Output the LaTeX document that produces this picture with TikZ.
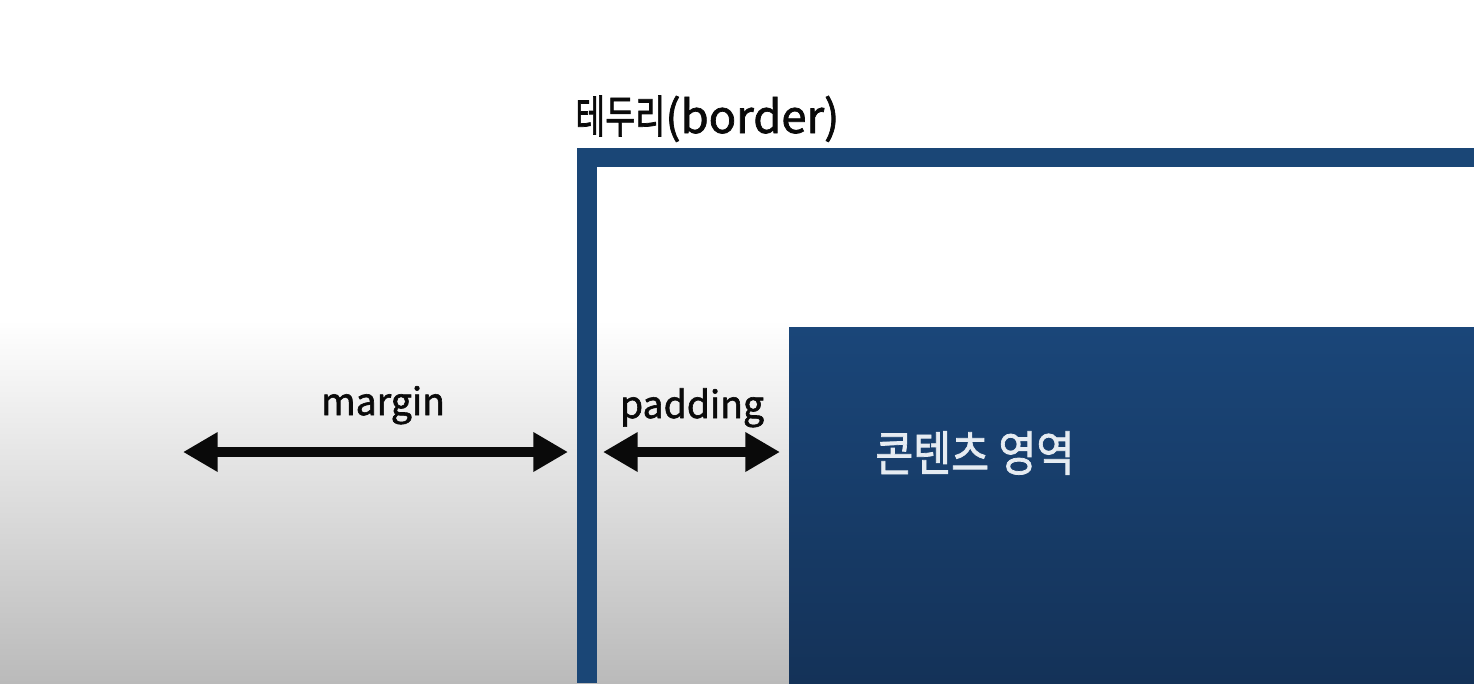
\documentclass[tikz,border=0pt]{standalone}
\usepackage{fontspec}
\usepackage{graphicx}
\newfontfamily\krfont[FakeBold=1.6]{Noto Sans CJK KR}
\usetikzlibrary{arrows.meta}
\definecolor{bgColor}{HTML}{ffffff}
\definecolor{bgGray}{HTML}{bababa}
\definecolor{fgColor}{HTML}{0a0a0a}
\definecolor{borderBlue}{HTML}{1a4676}
\definecolor{contentTop}{HTML}{1a4679}
\definecolor{contentBottom}{HTML}{143258}
\definecolor{labelWhite}{HTML}{e6ecf2}
\newcommand{\squeeze}[2]{\scalebox{#1}[1]{#2}}

\begin{document}
\begin{tikzpicture}[x=0.75pt,y=0.75pt,yscale=-1,
	label/.style={text=fgColor, inner sep=0pt, font=\krfont\fontsize{28}{28}\selectfont},
	dim/.style={fgColor, line width=7.5pt, {Triangle[length=26pt,width=28pt]}-{Triangle[length=26pt,width=28pt]}}]
		\useasboundingbox (0,0) rectangle (1474,683);

		% Background
		\fill [bgColor] (0,0) rectangle (1474,683);
		\shade [top color=bgColor, bottom color=bgGray] (0,320) rectangle (1474,683);

		% Border frame
		\fill [borderBlue] (577,148) rectangle (597,683);
		\fill [borderBlue] (577,148) rectangle (1474,167);

		% Content area
		\shade [top color=contentTop, bottom color=contentBottom] (789,327) rectangle (1474,683);

		% Arrow ends
		\coordinate (marginL)  at (183,452);
		\coordinate (marginR)  at (568,452);
		\coordinate (paddingL) at (603,452);
		\coordinate (paddingR) at (780,452);

		% Arrows
		\draw [dim] (marginL)  -- (marginR);
		\draw [dim] (paddingL) -- (paddingR);

		% Text Node
		\node (borderLabel)  [label, anchor=base west, font=\krfont\fontsize{34}{34}\selectfont] at (575,133) {\squeeze{0.72}{테두리}(border)};
		\node (marginLabel)  [label, anchor=base] at (383,415) {margin};
		\node (paddingLabel) [label, anchor=base] at (692,418) {padding};
		\node (contentLabel) [label, anchor=base west, text=labelWhite, font=\krfont\fontsize{36}{36}\selectfont] at (875,471) {\squeeze{0.86}{콘텐츠 영역}};
	\end{tikzpicture}
\end{document}
